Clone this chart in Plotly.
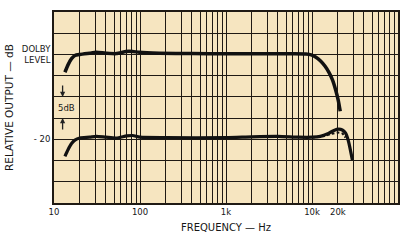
import plotly.graph_objects as go

# ---- data ----
upper_freq = [13.4, 14.6, 16.0, 17.5, 20.0, 26.0, 31.0, 40.0, 53.0, 69.0, 82.0, 98.0, 168.0,
              400.0, 1000.0, 3000.0, 6000.0, 8500.0, 9800.0, 11000.0, 12500.0, 14200.0,
              15800.0, 17300.0, 18800.0, 20200.0, 21300.0]
upper_db = [-4.2, -2.4, -1.0, -0.25, 0.0, 0.3, 0.5, 0.3, 0.2, 0.7, 0.7, 0.5, 0.3,
            0.2, 0.15, 0.15, 0.15, 0.1, -0.1, -0.6, -1.5, -2.8, -4.3, -6.0, -8.3, -10.8, -13.4]

lower_freq = [13.4, 14.5, 16.0, 17.5, 20.0, 26.0, 31.0, 40.0, 53.0, 70.0, 82.0, 100.0, 200.0,
              1000.0, 2000.0, 4000.0, 7000.0, 10000.0, 12500.0, 15500.0, 18000.0, 20500.0,
              22500.0, 24500.0, 26500.0, 29500.0]
lower_db = [-24.0, -22.5, -21.0, -20.2, -19.7, -19.5, -19.3, -19.5, -19.7, -19.2, -19.1, -19.5,
            -19.6, -19.6, -19.4, -19.3, -19.5, -19.5, -19.3, -18.6, -17.9, -17.6,
            -17.8, -18.5, -20.4, -24.9]

dashed_freq = [10000.0, 14000.0, 17000.0, 20000.0, 22500.0, 24500.0]
dashed_db = [-19.6, -19.2, -18.7, -18.4, -18.6, -19.6]

x_grid = [m * 10 ** d for d in range(1, 5) for m in range(1, 10)] + [100000]
x_labels = {10: "10", 100: "100", 1000: "1k", 10000: "10k", 20000: "20k"}
y_grid = list(range(-35, 15, 5))
y_labels = {0: "DOLBY<br>LEVEL", -20: "- 20"}

ink = "#1f1a14"
paper_cream = "#f6e5c0"
font_family = "DejaVu Sans, Liberation Sans, sans-serif"
text_color = "#161616"

fig = go.Figure()
fig.add_trace(go.Scatter(x=upper_freq, y=upper_db, mode="lines",
                         line=dict(color="#111", width=3.5, shape="spline", smoothing=0.6),
                         hoverinfo="skip"))
fig.add_trace(go.Scatter(x=lower_freq, y=lower_db, mode="lines",
                         line=dict(color="#111", width=3.2, shape="spline", smoothing=0.6),
                         hoverinfo="skip"))
fig.add_trace(go.Scatter(x=dashed_freq, y=dashed_db, mode="lines",
                         line=dict(color="#111", width=2, dash="3px,2px", shape="spline", smoothing=0.6),
                         hoverinfo="skip"))

fig.update_xaxes(type="log", range=[1, 5],
                 tickvals=x_grid,
                 ticktext=[x_labels.get(v, "") for v in x_grid],
                 showgrid=True, gridcolor=ink, gridwidth=1.4,
                 showline=True, linecolor=ink, linewidth=1.8, mirror=True,
                 ticks="", tickfont=dict(size=8.5, color=text_color, family=font_family),
                 title=dict(text="FREQUENCY — Hz", font=dict(size=10, color=text_color, family=font_family),
                            standoff=8),
                 zeroline=False, fixedrange=True)
fig.update_yaxes(range=[-35, 10],
                 tickvals=y_grid,
                 ticktext=[y_labels.get(v, "") for v in y_grid],
                 showgrid=True, gridcolor=ink, gridwidth=1.4,
                 showline=True, linecolor=ink, linewidth=1.8, mirror=True,
                 ticks="", tickfont=dict(size=8.5, color=text_color, family=font_family),
                 title=dict(text="RELATIVE OUTPUT — dB", font=dict(size=10.5, color=text_color, family=font_family),
                            standoff=6),
                 zeroline=False, fixedrange=True)

# 5 dB indicator
fig.add_annotation(x=1.146, y=-12.5, xref="x", yref="y", text="5dB", showarrow=False,
                   font=dict(size=8.5, color=text_color, family=font_family))
fig.add_annotation(x=1.1, y=-10, xref="x", yref="y", text="", showarrow=True,
                   arrowhead=2, arrowsize=0.8, arrowwidth=1.3, arrowcolor="#222", ax=0, ay=-13)
fig.add_annotation(x=1.1, y=-15, xref="x", yref="y", text="", showarrow=True,
                   arrowhead=2, arrowsize=0.8, arrowwidth=1.3, arrowcolor="#222", ax=0, ay=13)

fig.update_layout(width=402, height=242,
                  margin=dict(l=54, r=2, t=12, b=39),
                  plot_bgcolor=paper_cream, paper_bgcolor="white",
                  showlegend=False, font=dict(family=font_family))

fig.write_html("out.html", config={"displayModeBar": False})
